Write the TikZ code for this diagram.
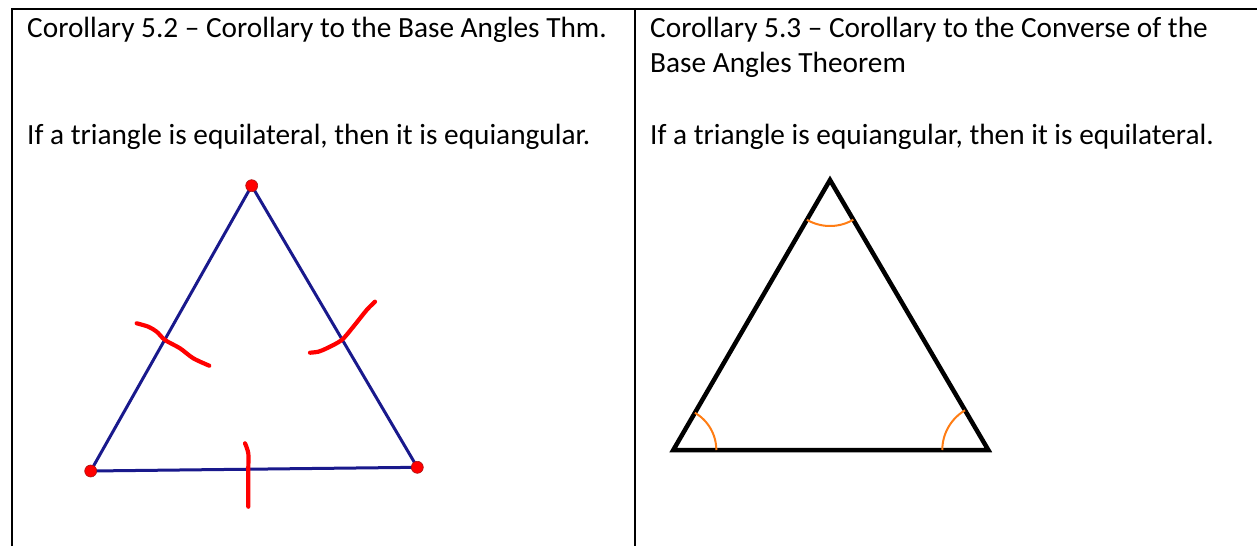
\documentclass[tikz,border=0pt]{standalone}
\usepackage{fontspec}
\setmainfont{Carlito}
\begin{document}
\begin{tikzpicture}[x=1pt,y=-1pt,
  txt/.style={anchor=base west,inner sep=0pt,font=\fontsize{29.3}{35.7}\selectfont},
  rule/.style={line width=2pt,black},
  bluetri/.style={line width=3pt,color={rgb,255:red,25;green,25;blue,140},line join=round},
  blacktri/.style={line width=4.5pt,black,line join=miter},
  dot/.style={circle,fill=red,draw={rgb,255:red,170;green,20;blue,20},line width=0.6pt,inner sep=0pt,minimum size=12pt},
  tick/.style={line width=4.2pt,red,line cap=round,line join=round},
  arcmark/.style={line width=2pt,color={rgb,255:red,255;green,125;blue,20}}]
\useasboundingbox (0,0) rectangle (1257,546);
% table rules
\draw[rule] (12,546) -- (12,9) -- (1257,9);
\draw[rule] (635,9) -- (635,546);
% texts
\node[txt] (t1) at (27,37.5) {Corollary 5.2 – Corollary to the Base Angles Thm.};
\node[txt] (t2) at (27,144.5) {If a triangle is equilateral, then it is equiangular.};
\node[txt] (t3) at (650,37.5) {Corollary 5.3 – Corollary to the Converse of the};
\node[txt] (t4) at (650,72.5) {Base Angles Theorem};
\node[txt] (t5) at (650,144.5) {If a triangle is equiangular, then it is equilateral.};
% left triangle
\coordinate (A) at (251.7,185.7);
\coordinate (B) at (90.7,471);
\coordinate (C) at (417.3,467.3);
\draw[bluetri] (A) -- (B) -- (C) -- cycle;
\node[dot] (dA) at (A) {};
\node[dot] (dB) at (B) {};
\node[dot] (dC) at (C) {};
% red ticks
\draw[tick] plot[smooth] coordinates {(136.7,323.3) (148.3,326.7) (156.7,331.7) (165,340) (180,348.3) (193.3,358.3) (209.3,365.7)};
\draw[tick] plot[smooth] coordinates {(310,352.7) (318.3,351.7) (326.7,348.3) (341.7,340) (353.3,326.7) (366.7,310) (375,301.7)};
\draw[tick] plot[smooth] coordinates {(245,443.3) (248.3,453.3) (248.3,470) (248.3,506.7)};
% right triangle
\coordinate (T) at (830,180);
\coordinate (L) at (673.3,450);
\coordinate (R) at (988.3,450);
\draw[blacktri] (T) -- (L) -- (R) -- cycle;
% angle arcs
\draw[arcmark] plot[domain=59.6:120.1,samples=30] ({830+46*cos(\x)},{180+46*sin(\x)});
\draw[arcmark] plot[domain=-59.9:0,samples=30] ({673.3+43*cos(\x)},{450+43*sin(\x)});
\draw[arcmark] plot[domain=180:239.6,samples=30] ({988.3+46*cos(\x)},{450+46*sin(\x)});
\end{tikzpicture}
\end{document}
